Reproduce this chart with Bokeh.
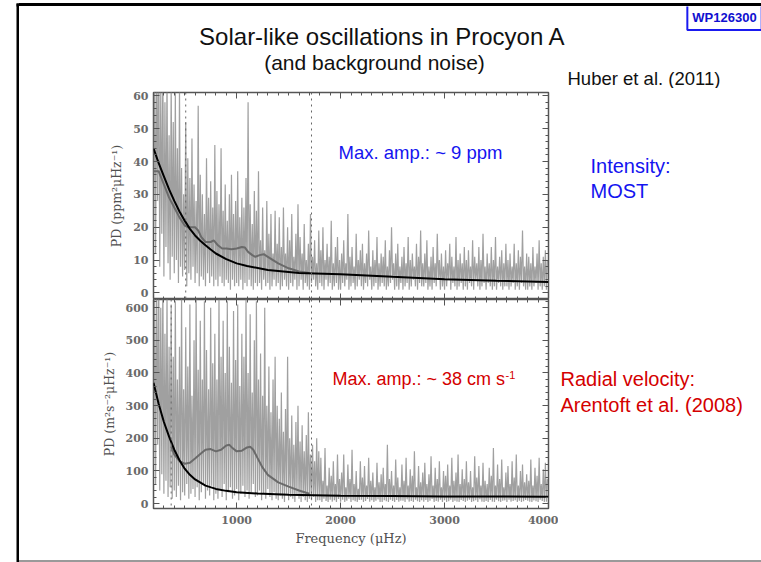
import numpy as np
from bokeh.plotting import figure
from bokeh.layouts import column, row
from bokeh.models import (Range1d, LinearAxis, SingleIntervalTicker, Span,
                          Label, Div)
from bokeh.embed import file_html
from bokeh.resources import INLINE

# ---------------------------------------------------------------- data
# Power-density spectra binned every 20 muHz: per-bin upper and lower envelope
bin_freq = np.arange(200, 4000, 20)

most_peak = [
    75, 68, 80, 62, 70, 58, 66, 48, 64, 52,
    61, 44, 62, 38, 30, 52, 41, 35, 47, 33,
    28, 57, 36, 30, 24, 41, 29, 34, 26, 45,
    31, 27, 44, 25, 33, 22, 30, 36, 24, 28,
    37, 23, 29, 26, 35, 58, 27, 21, 31, 25,
    37, 16, 26, 13, 28, 18, 24, 12, 25, 15,
    23, 14, 26, 12, 20, 16, 24, 11, 18, 27,
    17, 12, 21, 10, 15, 24, 11, 16, 9, 19,
    13, 20, 10, 15, 11, 22, 9, 14, 17, 10,
    12, 16, 9, 24, 11, 14, 8, 18, 10, 13,
    15, 9, 12, 19, 8, 13, 10, 17, 9, 12,
    11, 16, 8, 13, 20, 9, 12, 15, 8, 11,
    14, 9, 17, 10, 12, 8, 15, 11, 19, 9,
    12, 16, 8, 11, 14, 9, 18, 10, 12, 8,
    13, 9, 15, 11, 8, 17, 10, 12, 9, 14,
    10, 13, 8, 16, 11, 9, 14, 10, 18, 8,
    12, 9, 14, 10, 17, 8, 11, 13, 9, 15,
    10, 12, 8, 15, 9, 13, 11, 19, 8, 12,
    11, 9, 14, 8, 12, 16, 9, 11, 13, 10,
]
most_trough = [
    20, 12, 28, 8, 18, 5, 14, 9, 4, 11,
    6, 10, 3, 8, 5, 7, 2, 6, 4, 8,
    3, 6, 2, 5, 4, 2, 6, 3, 5, 2,
    4, 2, 5, 3, 2, 4, 3, 1, 4, 2,
    3, 2, 4, 1, 3, 2, 4, 2, 1, 3,
    2, 3, 1, 4, 2, 3, 1, 2, 4, 2,
    3, 1, 2, 4, 2, 1, 3, 2, 4, 1,
    2, 4, 1, 3, 2, 1, 3, 4, 2, 1,
    3, 2, 1, 4, 2, 3, 1, 2, 3, 1,
    1, 3, 2, 4, 1, 2, 3, 1, 2, 4,
    2, 1, 3, 2, 4, 1, 2, 3, 1, 2,
    3, 2, 1, 2, 3, 4, 1, 2, 1, 3,
    1, 2, 3, 1, 2, 4, 2, 1, 3, 2,
    2, 3, 1, 2, 1, 3, 2, 4, 1, 2,
    1, 2, 4, 1, 3, 2, 1, 2, 3, 1,
    2, 1, 3, 2, 1, 4, 2, 1, 2, 3,
    1, 3, 2, 1, 2, 1, 3, 2, 1, 2,
    2, 1, 2, 3, 1, 2, 1, 3, 2, 1,
    1, 2, 1, 2, 3, 1, 2, 1, 2, 1,
]

rv_peak = [
    700, 650, 720, 600, 680, 520, 640, 480, 610, 450,
    620, 380, 480, 630, 350, 540, 420, 610, 330, 500,
    640, 410, 560, 380, 620, 470, 350, 600, 430, 520,
    380, 640, 450, 560, 400, 620, 480, 370, 590, 440,
    610, 360, 520, 450, 630, 400, 580, 340, 500, 620,
    380, 460, 330, 600, 300, 420, 280, 380, 450, 300,
    260, 340, 220, 290, 450, 200, 270, 180, 250, 300,
    190, 240, 160, 210, 280, 150, 180, 130, 200, 160,
    140, 70, 170, 55, 110, 85, 130, 60, 150, 75,
    95, 150, 50, 120, 75, 165, 60, 100, 45, 130,
    80, 115, 55, 140, 70, 95, 50, 125, 65, 90,
    110, 60, 180, 75, 100, 55, 135, 80, 50, 120,
    70, 140, 55, 105, 85, 160, 50, 115, 65, 95,
    125, 60, 90, 145, 55, 110, 75, 130, 50, 100,
    85, 120, 55, 140, 70, 95, 150, 60, 105, 75,
    130, 65, 100, 50, 145, 80, 115, 55, 125, 70,
    60, 110, 85, 170, 55, 120, 75, 135, 50, 95,
    115, 60, 130, 80, 150, 55, 100, 120, 65, 90,
    70, 135, 55, 110, 85, 140, 60, 105, 125, 75,
]
rv_trough = [
    120, 60, 180, 40, 90, 30, 70, 20, 50, 15,
    40, 20, 55, 10, 35, 25, 60, 15, 30, 45,
    20, 50, 10, 35, 60, 15, 40, 25, 55, 10,
    30, 15, 45, 20, 60, 10, 35, 50, 15, 25,
    45, 10, 30, 55, 20, 40, 15, 35, 60, 20,
    25, 40, 10, 30, 15, 45, 20, 10, 35, 15,
    10, 25, 15, 5, 30, 10, 20, 15, 5, 25,
    15, 5, 20, 10, 5, 15, 10, 20, 5, 10,
    10, 5, 15, 8, 5, 12, 6, 10, 5, 14,
    6, 12, 5, 9, 15, 5, 10, 7, 5, 11,
    12, 5, 8, 14, 6, 10, 5, 9, 13, 5,
    5, 10, 7, 5, 12, 8, 5, 11, 6, 9,
    9, 5, 13, 6, 8, 5, 12, 7, 5, 10,
    6, 11, 5, 9, 14, 5, 8, 6, 12, 5,
    10, 5, 7, 12, 5, 9, 6, 5, 11, 8,
    5, 9, 12, 5, 7, 10, 5, 13, 6, 5,
    8, 5, 11, 6, 5, 12, 7, 5, 9, 10,
    5, 12, 6, 8, 10, 5, 9, 5, 7, 11,
    9, 6, 5, 10, 7, 5, 12, 8, 5, 6,
]

# Background (granulation + white noise) fits
most_bg_freq = [200, 250, 300, 350, 400, 450, 500, 550, 600, 650, 700, 750, 800,
                900, 1000, 1100, 1300, 1600, 2000, 2500, 3000, 3500, 4000]
most_bg = [44, 39.5, 35.5, 31.5, 28, 24.8, 22, 19.5, 17.5, 15.9, 14.5, 13.2, 12,
           10.3, 9.0, 8.2, 7.0, 6.1, 5.7, 4.9, 4.2, 3.7, 3.3]
rv_bg_freq = [200, 250, 300, 350, 400, 450, 500, 550, 600, 700, 800, 900, 1000,
              1200, 1500, 2000, 2500, 3000, 3500, 4000]
rv_bg = [370, 305, 250, 205, 165, 133, 107, 88, 74, 55, 45, 39, 35,
         31, 27, 24, 23, 22, 21.5, 21]

# Heavily smoothed spectra
most_sm_freq = [200, 250, 300, 350, 400, 450, 500, 530, 560, 600, 630, 660, 700,
                750, 780, 820, 860, 900, 950, 1000, 1050, 1080, 1110, 1150,
                1180, 1220, 1260, 1300, 1400, 1500, 1600, 1700]
most_sm = [37, 37, 33, 29, 26, 23, 20.5, 20, 20, 20, 19, 17, 15.5,
           15.5, 16, 14.5, 13.5, 13.5, 13.3, 13.5, 14, 13.8, 12.5, 11.5,
           11, 11.5, 11.8, 11, 9, 7.5, 6.5, 6.1]
rv_sm_freq = [370, 400, 450, 500, 550, 600, 650, 700, 750, 800, 850, 900, 930,
              960, 1000, 1050, 1100, 1130, 1160, 1200, 1250, 1300, 1400, 1500,
              1600, 1700]
rv_sm = [175, 150, 130, 122, 125, 138, 152, 165, 167, 160, 165, 178, 180,
         170, 160, 162, 172, 174, 165, 140, 110, 88, 65, 52, 40, 30]

# Frequency window markers
most_window = [510, 1720]
rv_window = [370, 1720]

FREQ_RANGE = (200, 4000)
MOST_RANGE = (-2, 61)
RV_RANGE = (-15, 625)

TITLE = "Solar-like oscillations in Procyon A"
SUBTITLE = "(and background noise)"

AX = "#555555"
SERIF = "DejaVu Serif"
SANS = "Liberation Sans"
BLUE = "#1414f0"
RED = "#d40000"

# page geometry (pixels)
PAGE_W, PAGE_H = 761, 562
STRIP_W = 19          # left margin holding the slide frame line
TOP_RULE = 6          # white gap + black rule above the title block
HEAD_H = 88           # title block including the top rule
PLOT_LEFT = 134       # room for y tick labels and axis titles
FRAME_W = 395
PLOT_RIGHT = 10


def zigzag(peaks, troughs):
    xs = np.empty(2 * len(bin_freq))
    ys = np.empty(2 * len(bin_freq))
    xs[0::2] = bin_freq
    xs[1::2] = bin_freq + 10
    ys[0::2] = troughs
    ys[1::2] = peaks
    return xs, ys


def style_axis(ax, labels=True):
    ax.axis_line_color = None
    ax.major_tick_in = 6
    ax.major_tick_out = 0
    ax.minor_tick_in = 3
    ax.minor_tick_out = 0
    ax.major_tick_line_color = AX
    ax.minor_tick_line_color = AX
    ax.major_label_text_font = SERIF
    ax.major_label_text_font_size = "11px"
    ax.major_label_text_font_style = "bold"
    ax.major_label_text_color = "#6a6a6a"
    ax.axis_label_text_font = SERIF
    ax.axis_label_text_font_style = "normal"
    ax.axis_label_text_font_size = "12.5px"
    ax.axis_label_text_color = "#505050"
    ax.axis_label_standoff = 6
    if not labels:
        # tick marks only
        ax.major_label_text_font_size = "1px"
        ax.major_label_text_color = None
        ax.major_label_standoff = 0
        ax.axis_label = None


def panel(yrange, frame_h, top, bottom, y_interval, ylabel, peaks, troughs,
          bg_f, bg, sm_f, sm, window, xlabels):
    p = figure(frame_width=FRAME_W, frame_height=frame_h, title=None,
               x_range=Range1d(*FREQ_RANGE), y_range=Range1d(*yrange),
               min_border_left=PLOT_LEFT, min_border_right=PLOT_RIGHT,
               min_border_top=top, min_border_bottom=bottom,
               output_backend="svg", toolbar_location=None)
    p.grid.visible = False
    p.outline_line_color = AX
    p.outline_line_width = 1.5
    p.background_fill_color = "white"
    p.border_fill_color = "white"

    p.xaxis.ticker = SingleIntervalTicker(interval=1000, num_minor_ticks=10)
    p.yaxis.ticker = SingleIntervalTicker(interval=y_interval, num_minor_ticks=5)
    p.yaxis.axis_label = ylabel
    style_axis(p.xaxis[0], labels=xlabels)
    style_axis(p.yaxis[0])
    p.yaxis.major_label_standoff = 5
    if xlabels:
        p.xaxis.axis_label = "Frequency (\u03bcHz)"
        p.xaxis.axis_label_text_font_size = "13px"
        p.xaxis.axis_label_standoff = 4
        p.xaxis.major_label_standoff = 7

    top_ax = LinearAxis(ticker=SingleIntervalTicker(interval=1000, num_minor_ticks=10))
    right_ax = LinearAxis(ticker=SingleIntervalTicker(interval=y_interval, num_minor_ticks=5))
    style_axis(top_ax, labels=False)
    style_axis(right_ax, labels=False)
    p.add_layout(top_ax, "above")
    p.add_layout(right_ax, "right")

    xs, ys = zigzag(peaks, troughs)
    p.line(xs, ys, line_color="#888888", line_width=1.2, line_alpha=0.8)
    p.line(sm_f, sm, line_color="#6a6a6a", line_width=2)
    p.line(bg_f, bg, line_color="black", line_width=2)
    for f in window:
        p.add_layout(Span(location=f, dimension="height", line_color="#666666",
                          line_width=1, line_dash="dotted"))
    return p


def sheet(w, h):
    """Blank drawing area for slide text (no axes, white)."""
    s = figure(width=w, height=h, title=None,
               x_range=Range1d(0, w), y_range=Range1d(h, 0),
               min_border=0, x_axis_location=None, y_axis_location=None,
               output_backend="svg", toolbar_location=None)
    s.grid.visible = False
    s.outline_line_color = None
    s.background_fill_color = "white"
    s.border_fill_color = "white"
    return s


def text(p, s, x, y, size, color, align="left", style="normal", font=SANS, **kw):
    p.add_layout(Label(x=x, y=y, x_units="canvas", y_units="canvas", text=s,
                       text_font=font, text_font_size=size, text_color=color,
                       text_align=align, text_baseline="middle",
                       text_font_style=style, **kw))


def band(w, h, color="white"):
    """Plain coloured block used for the slide rules."""
    return Div(text="", width=w, height=h, margin=0,
               styles={"background-color": color})


p1 = panel(MOST_RANGE, 207, 4, 0, 10, "PD (ppm\u00b2\u03bcHz\u207b\u00b9)",
           most_peak, most_trough, most_bg_freq, most_bg, most_sm_freq, most_sm,
           most_window, xlabels=False)
p2 = panel(RV_RANGE, 209, 0, 48, 100, "PD (m\u00b2s\u207b\u00b2\u03bcHz\u207b\u00b9)",
           rv_peak, rv_trough, rv_bg_freq, rv_bg, rv_sm_freq, rv_sm,
           rv_window, xlabels=True)

inner_w = PAGE_W - STRIP_W
right_w = inner_w - (PLOT_LEFT + FRAME_W + PLOT_RIGHT)
mid_h = PAGE_H - HEAD_H - 4
right_x0 = STRIP_W + PLOT_LEFT + FRAME_W + PLOT_RIGHT
hy = TOP_RULE  # page y of the title sheet's top edge

# left frame line of the slide
strip = sheet(STRIP_W, PAGE_H)
strip.quad(left=[16], right=[19], top=[3], bottom=[PAGE_H + 2],
           fill_color="black", line_color=None)
strip.quad(left=[16], right=[STRIP_W + 2], top=[3], bottom=[6],
           fill_color="black", line_color=None)

# title block
head = sheet(inner_w, HEAD_H - TOP_RULE)
text(head, "WP126300", 724 - STRIP_W, 17 - hy, "13px", "#1010d0",
     align="center", style="bold", border_line_color="#1a1af0",
     border_line_width=2, padding=5)
text(head, TITLE, 382 - STRIP_W, 36 - hy, "24px", "#111111", align="center")
text(head, SUBTITLE, 374 - STRIP_W, 62 - hy, "21px", "#111111", align="center")
text(head, "Huber et al. (2011)", 567 - STRIP_W, 78 - hy, "18.5px", "#111111")

# annotations inside the panels
text(p1, "Max. amp.: ~ 9 ppm", 338 - STRIP_W, 152 - HEAD_H, "18.5px", BLUE)
text(p2, "Max. amp.: ~ 38 cm s", 332 - STRIP_W, 79, "18px", RED)
text(p2, "-1", 505 - STRIP_W, 75, "11px", RED)

# instrument notes to the right of the panels
side = sheet(right_w, mid_h)
text(side, "Intensity:", 590 - right_x0, 165 - HEAD_H, "20px", BLUE)
text(side, "MOST", 590 - right_x0, 190 - HEAD_H, "20px", BLUE)
text(side, "Radial velocity:", 560 - right_x0, 378 - HEAD_H, "20px", RED)
text(side, "Arentoft et al. (2008)", 560 - right_x0, 404 - HEAD_H, "20px", RED)

layout = row(strip,
             column(band(inner_w, 3), band(inner_w, 3, "black"), head,
                    row(column(p1, p2, spacing=0), side, spacing=0),
                    band(inner_w, 2), band(inner_w, 2, "#9a9a9a"),
                    spacing=0),
             spacing=0)
open("out.html", "w").write(file_html(layout, INLINE))
